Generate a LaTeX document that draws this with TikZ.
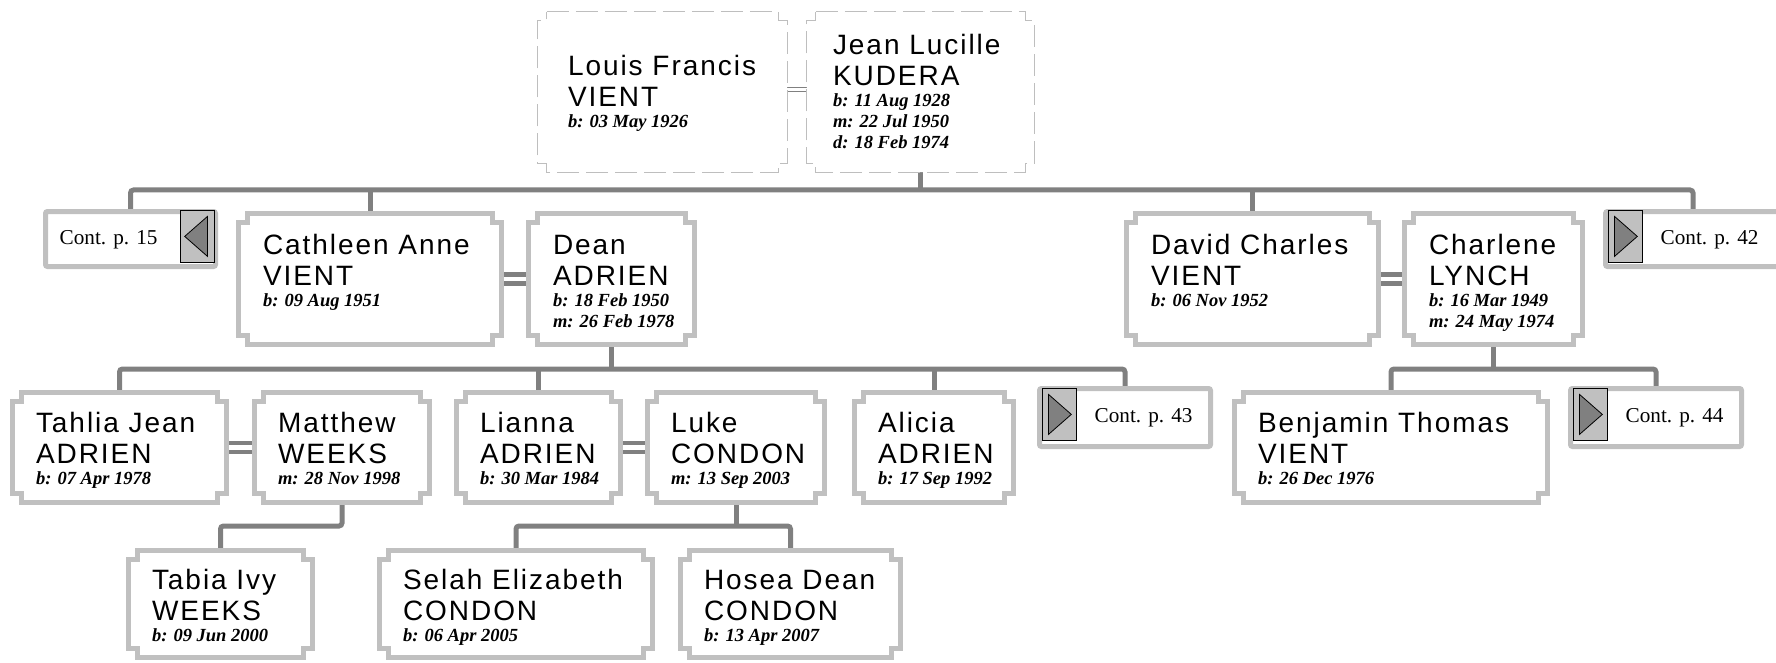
\documentclass[tikz,border=0pt]{standalone}
\usepackage{fontspec}
\setmainfont{Liberation Serif}
\newfontfamily\nmfamily{Liberation Sans}[LetterSpace=7]
\usetikzlibrary{calc}
\definecolor{lgray}{HTML}{C0C0C0}
\definecolor{dgray}{HTML}{808080}
\definecolor{dashgray}{HTML}{BEBEBE}
\newcommand\nm{\nmfamily\fontsize{28}{31}\selectfont}
\newcommand\dt{\fontsize{18.5}{21}\selectfont\bfseries\itshape}
\newcommand\ct{\fontsize{21.2}{24}\selectfont}
\newcommand\pl[3]{\vtop{\lineskiplimit=-100pt\lineskip=0pt\baselineskip=31pt\hbox{\nm #1}\hbox{\nm #2}\baselineskip=21pt #3}}
\newcommand\dl[1]{\hbox{\dt #1}}
\newcommand\notchpath[1]{([xshift=9pt]#1.north west) -- ([xshift=-9pt]#1.north east) -- ++(0,9) -- ++(9,0) -- ([yshift=9pt]#1.south east) -- ++(-9,0) -- ++(0,9) -- ([xshift=9pt]#1.south west) -- ++(0,-9) -- ++(-9,0) -- ([yshift=-9pt]#1.north west) -- ++(9,0) -- cycle}
\pgfdeclarelayer{bg}
\pgfsetlayers{bg,main}
\tikzset{
  pbox/.style={rectangle, inner sep=0pt, draw=none},
  bline/.style={draw=lgray, line width=5pt, fill=white},
  dline/.style={draw=dashgray, line width=1.2pt, dash pattern=on 22pt off 7pt, fill=white},
  txt/.style={inner sep=0pt, anchor=base west},
  conn/.style={draw=dgray, line width=5pt},
  bus/.style={conn, rounded corners=3pt},
  dbl/.style={draw=dgray, line width=4.5pt},
  thin dbl/.style={draw=dgray, line width=1pt},
  cbox/.style={draw=lgray, line width=5pt, rounded corners=2pt, fill=white, inner sep=0pt},
  arrsq/.style={draw=black, line width=0.8pt, fill=lgray, minimum width=34pt, minimum height=52pt, inner sep=0pt},
  tri/.style={draw=black, line width=0.8pt, fill=dgray},
}
% #1 style, #2 name, #3 center, #4 width, #5 height, #6 text shift, #7 text
\newcommand\person[7][bline]{%
  \node[pbox, minimum width=#4pt, minimum height=#5pt] (#2) at #3 {};
  \draw[#1] \notchpath{#2};
  \node[txt] (#2-t) at ([shift={#6}]#2.north west) {#7};}
\begin{document}
\begin{tikzpicture}[x=1pt,y=-1pt]
\useasboundingbox (0,0) rectangle (1776,663);
\clip (0,0) rectangle (1776,663);
% generation 1
\person[dline]{louis}{(662.5,92)}{249}{160}{(30,64)}{\pl{Louis Francis}{VIENT}{\dl{b: 03 May 1926}}}
\person[dline]{jean}{(920.5,92)}{227}{160}{(26,43)}{\pl{Jean Lucille}{KUDERA}{\dl{b: 11 Aug 1928}\dl{m: 22 Jul 1950}\dl{d: 18 Feb 1974}}}
% generation 2
\person{cathleen}{(370,279)}{263}{131}{(24.5,41.5)}{\pl{Cathleen Anne}{VIENT}{\dl{b: 09 Aug 1951}}}
\person{dean}{(611.5,279)}{166}{131}{(24.5,41.5)}{\pl{Dean}{ADRIEN}{\dl{b: 18 Feb 1950}\dl{m: 26 Feb 1978}}}
\person{david}{(1252.5,279)}{252}{131}{(24.5,41.5)}{\pl{David Charles}{VIENT}{\dl{b: 06 Nov 1952}}}
\person{charlene}{(1493.5,279)}{178}{131}{(24.5,41.5)}{\pl{Charlene}{LYNCH}{\dl{b: 16 Mar 1949}\dl{m: 24 May 1974}}}
% generation 3
\person{tahlia}{(119.5,447.5)}{214}{110}{(23.5,40.5)}{\pl{Tahlia Jean}{ADRIEN}{\dl{b: 07 Apr 1978}}}
\person{matthew}{(342,447.5)}{175}{110}{(23.5,40.5)}{\pl{Matthew}{WEEKS}{\dl{m: 28 Nov 1998}}}
\person{lianna}{(538.5,447.5)}{164}{110}{(23.5,40.5)}{\pl{Lianna}{ADRIEN}{\dl{b: 30 Mar 1984}}}
\person{luke}{(736,447.5)}{177}{110}{(23.5,40.5)}{\pl{Luke}{CONDON}{\dl{m: 13 Sep 2003}}}
\person{alicia}{(934,447.5)}{159}{110}{(23.5,40.5)}{\pl{Alicia}{ADRIEN}{\dl{b: 17 Sep 1992}}}
\person{benjamin}{(1391,447.5)}{313}{110}{(23.5,40.5)}{\pl{Benjamin Thomas}{VIENT}{\dl{b: 26 Dec 1976}}}
% generation 4
\person{tabia}{(220.5,604)}{184}{107}{(23.5,39.5)}{\pl{Tabia Ivy}{WEEKS}{\dl{b: 09 Jun 2000}}}
\person{selah}{(516,604)}{273}{107}{(23.5,39.5)}{\pl{Selah Elizabeth}{CONDON}{\dl{b: 06 Apr 2005}}}
\person{hosea}{(790.5,604)}{220}{107}{(23.5,39.5)}{\pl{Hosea Dean}{CONDON}{\dl{b: 13 Apr 2007}}}
% continuation boxes
\node[cbox, minimum width=170pt, minimum height=55pt] (cont15) at (130.5,239) {};
\node[arrsq, anchor=north east] (cont15-a) at ([xshift=-3.5pt,yshift=-1pt]cont15.north east) {};
\draw[tri] ([xshift=5pt]cont15-a.west) -- ([xshift=-7pt,yshift=20pt]cont15-a.east) -- ([xshift=-7pt,yshift=-20pt]cont15-a.east) -- cycle;
\node[txt] (cont15-t) at ([shift={(16.5,35.5)}]cont15.north west) {\ct Cont. p. 15};

\node[cbox, minimum width=175pt, minimum height=55pt] (cont42) at (1693,239) {};
\node[arrsq, anchor=north west] (cont42-a) at ([xshift=4.5pt,yshift=-1pt]cont42.north west) {};
\draw[tri] ([xshift=-5pt]cont42-a.east) -- ([xshift=7pt,yshift=20pt]cont42-a.west) -- ([xshift=7pt,yshift=-20pt]cont42-a.west) -- cycle;
\node[txt] (cont42-t) at ([shift={(57.5,35.5)}]cont42.north west) {\ct Cont. p. 42};

\node[cbox, minimum width=171pt, minimum height=58pt] (cont43) at (1125,417.5) {};
\node[arrsq, anchor=north west] (cont43-a) at ([xshift=4.5pt,yshift=-2pt]cont43.north west) {};
\draw[tri] ([xshift=-5pt]cont43-a.east) -- ([xshift=7pt,yshift=20pt]cont43-a.west) -- ([xshift=7pt,yshift=-20pt]cont43-a.west) -- cycle;
\node[txt] (cont43-t) at ([shift={(57.5,36.5)}]cont43.north west) {\ct Cont. p. 43};

\node[cbox, minimum width=171pt, minimum height=58pt] (cont44) at (1656,417.5) {};
\node[arrsq, anchor=north west] (cont44-a) at ([xshift=4.5pt,yshift=-2pt]cont44.north west) {};
\draw[tri] ([xshift=-5pt]cont44-a.east) -- ([xshift=7pt,yshift=20pt]cont44-a.west) -- ([xshift=7pt,yshift=-20pt]cont44-a.west) -- cycle;
\node[txt] (cont44-t) at ([shift={(57.5,36.5)}]cont44.north west) {\ct Cont. p. 44};

\coordinate (bus1) at (0,190);
\coordinate (bus2) at (0,369);
\coordinate (bus3) at (0,526);
\begin{pgfonlayer}{bg}
% marriages
\draw[thin dbl] ([yshift=4pt]louis.east) -- ([yshift=4pt]jean.west);
\draw[thin dbl] (louis.east) -- (jean.west);
\foreach \a/\b in {cathleen/dean, david/charlene, tahlia/matthew, lianna/luke}{
  \draw[dbl] ([yshift=4.5pt]\a.east) -- ([yshift=4.5pt]\b.west);
  \draw[dbl] ([yshift=-4.5pt]\a.east) -- ([yshift=-4.5pt]\b.west);
}
% generation 1 -> 2
\draw[conn] (jean.south) -- (jean.south |- bus1);
\draw[bus] (cont15.north) -- (cont15.north |- bus1) -- (cont42.north |- bus1) -- (cont42.north);
\draw[conn] (cathleen.north) -- (cathleen.north |- bus1);
\draw[conn] (david.north) -- (david.north |- bus1);
% generation 2 -> 3
\draw[conn] (dean.south) -- (dean.south |- bus2);
\draw[bus] (tahlia.north) -- (tahlia.north |- bus2) -- (cont43.north |- bus2) -- (cont43.north);
\draw[conn] (lianna.north) -- (lianna.north |- bus2);
\draw[conn] (alicia.north) -- (alicia.north |- bus2);
\draw[conn] (charlene.south) -- (charlene.south |- bus2);
\draw[bus] (benjamin.north) -- (benjamin.north |- bus2) -- (cont44.north |- bus2) -- (cont44.north);
% generation 3 -> 4
\draw[bus] (matthew.south) -- (matthew.south |- bus3) -- (tabia.north |- bus3) -- (tabia.north);
\draw[conn] (luke.south) -- (luke.south |- bus3);
\draw[bus] (selah.north) -- (selah.north |- bus3) -- (hosea.north |- bus3) -- (hosea.north);
\end{pgfonlayer}
\end{tikzpicture}
\end{document}
